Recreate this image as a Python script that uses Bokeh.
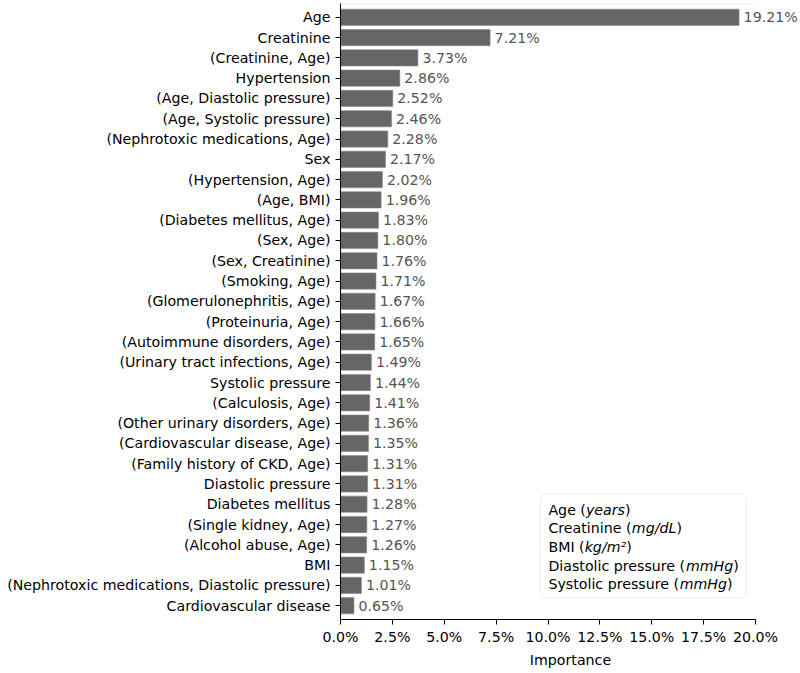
from bokeh.plotting import figure
from bokeh.models import (Range1d, FixedTicker, NumeralTickFormatter, ColumnDataSource,
                          BoxAnnotation)
from bokeh.core.properties import value
from bokeh.embed import file_html
from bokeh.resources import INLINE

# ---------------- data ----------------
features = [
    "Age", "Creatinine", "(Creatinine, Age)", "Hypertension",
    "(Age, Diastolic pressure)", "(Age, Systolic pressure)",
    "(Nephrotoxic medications, Age)", "Sex", "(Hypertension, Age)",
    "(Age, BMI)", "(Diabetes mellitus, Age)", "(Sex, Age)",
    "(Sex, Creatinine)", "(Smoking, Age)", "(Glomerulonephritis, Age)",
    "(Proteinuria, Age)", "(Autoimmune disorders, Age)",
    "(Urinary tract infections, Age)", "Systolic pressure",
    "(Calculosis, Age)", "(Other urinary disorders, Age)",
    "(Cardiovascular disease, Age)", "(Family history of CKD, Age)",
    "Diastolic pressure", "Diabetes mellitus", "(Single kidney, Age)",
    "(Alcohol abuse, Age)", "BMI",
    "(Nephrotoxic medications, Diastolic pressure)", "Cardiovascular disease",
]
importance_pct = [
    19.21, 7.21, 3.73, 2.86, 2.52, 2.46, 2.28, 2.17, 2.02, 1.96,
    1.83, 1.80, 1.76, 1.71, 1.67, 1.66, 1.65, 1.49, 1.44, 1.41,
    1.36, 1.35, 1.31, 1.31, 1.28, 1.27, 1.26, 1.15, 1.01, 0.65,
]
x_ticks = [0.0, 0.025, 0.05, 0.075, 0.10, 0.125, 0.15, 0.175, 0.20]
unit_names = ["Age (", "Creatinine (", "BMI (", "Diastolic pressure (", "Systolic pressure ("]
unit_values = ["years", "mg/dL", "kg/m\u00b2", "mmHg", "mmHg"]

# ---------------- layout ----------------
FONT = "DejaVu Sans"
FS = 14.2
W, H = 800, 670
LEFT, RIGHT, TOP, BOTTOM = 340, 0, 3, 45
frame_w = W - LEFT - RIGHT
px_per_unit = 20.75 * 100  # pixels per 1.0 (=100%)
x_end = frame_w / px_per_unit
n = len(features)
y_lo, y_hi = -0.68, n - 1 + 0.68

p = figure(width=W, height=H, output_backend="svg", toolbar_location=None,
           x_range=Range1d(0, x_end), y_range=Range1d(y_lo, y_hi),
           min_border_left=LEFT, min_border_right=RIGHT,
           min_border_top=TOP, min_border_bottom=BOTTOM)
p.outline_line_color = None
p.grid.visible = False
p.background_fill_color = "white"

ys = [n - 1 - i for i in range(n)]
vals = [v / 100.0 for v in importance_pct]
src = ColumnDataSource(dict(y=ys, v=vals, lab=[f"{v:.2f}%" for v in importance_pct]))

p.hbar(y="y", right="v", left=0, height=0.8, source=src,
       fill_color="#666666", line_color="#8a8a8a", line_width=0.6)
p.text(x="v", y="y", text="lab", source=src, x_offset=4.5,
       text_baseline="middle", text_align="left", text_color="#555555",
       text_font=value(FONT), text_font_size=f"{FS}px")

# faint top line
p.segment(x0=[0], x1=[0.2], y0=[y_hi - 0.02], y1=[y_hi - 0.02],
          line_color="#e6e6e6", line_width=1)

# axes
xa = p.xaxis[0]
xa.ticker = FixedTicker(ticks=x_ticks)
xa.formatter = NumeralTickFormatter(format="0.0%")
xa.bounds = (0, 0.2)
xa.axis_label = "Importance"
xa.axis_label_text_font_style = "normal"
xa.axis_label_text_font = FONT
xa.axis_label_text_font_size = f"{FS}px"
xa.axis_label_text_color = "black"
xa.axis_label_standoff = 4
xa.major_label_text_font = FONT
xa.major_label_text_font_size = f"{FS}px"
xa.major_label_text_color = "black"
xa.major_label_standoff = 4
xa.major_tick_in = 0
xa.major_tick_out = 5
xa.minor_tick_out = 0
xa.minor_tick_in = 0
xa.axis_line_color = "black"
xa.major_tick_line_color = "black"

ya = p.yaxis[0]
ya.ticker = FixedTicker(ticks=ys)
ya.major_label_overrides = {y: f for y, f in zip(ys, features)}
ya.major_label_text_font = FONT
ya.major_label_text_font_size = f"{FS}px"
ya.major_label_text_color = "black"
ya.major_label_standoff = 5
ya.major_tick_in = 0
ya.major_tick_out = 5
ya.minor_tick_out = 0
ya.minor_tick_in = 0
ya.axis_line_color = "black"
ya.major_tick_line_color = "black"

# ---------------- unit box ----------------
adv = {" ": .318, "(": .390, ")": .390, "A": .684, "g": .635, "e": .615, "y": .592,
       "a": .613, "r": .411, "s": .521, "C": .698, "i": .278, "n": .634, "t": .392,
       "m": .974, "/": .337, "d": .635, "L": .557, "B": .686, "M": .863, "I": .295,
       "k": .579, "\u00b2": .401, "D": .770, "o": .612, "l": .278, "c": .550,
       "p": .635, "u": .634, "H": .752, "S": .635, "h": .634, "v": .592}


def width_units(s):
    return sum(adv.get(ch, 0.6) for ch in s) * FS / px_per_unit


box = BoxAnnotation(left=0.0964, right=0.1957, bottom=0.38, top=5.51,
                    fill_color="white", fill_alpha=0.8, line_color="#cccccc",
                    line_width=1, border_radius=5, level="underlay")
p.add_layout(box)

tx0 = 0.1002
line_y = [4.73, 3.81, 2.90, 1.98, 1.07]
x_a, x_b, x_c = [], [], []
for nm, un in zip(unit_names, unit_values):
    x_a.append(tx0)
    xb = tx0 + width_units(nm)
    x_b.append(xb)
    x_c.append(xb + width_units(un))

common = dict(text_baseline="middle", text_align="left", text_color="black",
              text_font=value(FONT), text_font_size=f"{FS}px")
p.text(x=x_a, y=line_y, text=unit_names, **common)
p.text(x=x_b, y=line_y, text=unit_values, text_font_style="italic", **common)
p.text(x=x_c, y=line_y, text=[")"] * len(unit_names), **common)

open("out.html", "w").write(file_html(p, INLINE))
